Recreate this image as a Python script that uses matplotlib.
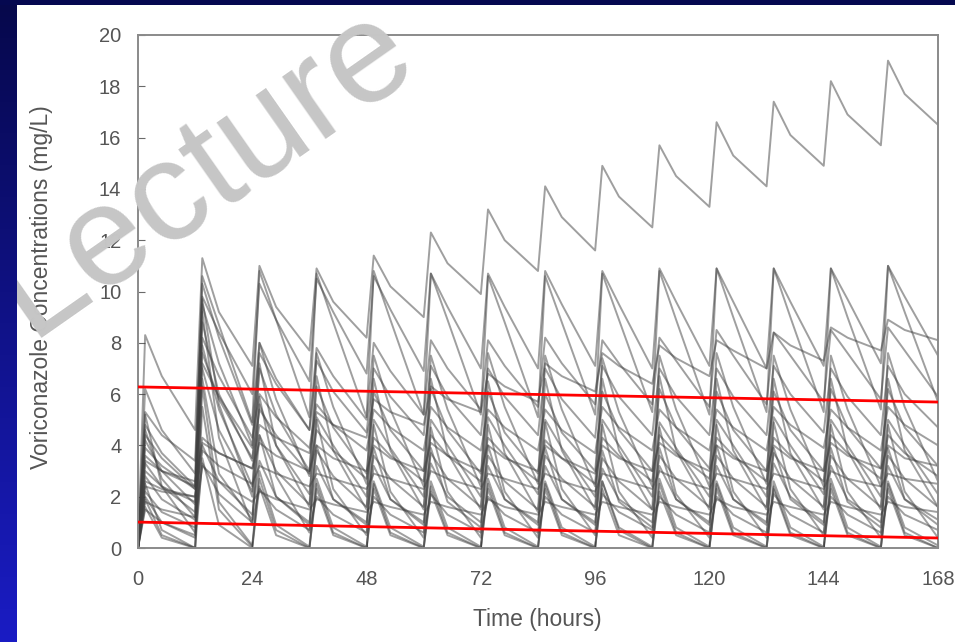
import matplotlib
matplotlib.use("Agg")
import matplotlib.pyplot as plt
import numpy as np
from matplotlib.patches import Rectangle

plt.rcParams['font.family'] = ['Liberation Sans', 'DejaVu Sans']

# dosing every 12 h; each curve: (peak at +1.5 h, value at +5 h, trough at +12 h)
dose_times = [0, 12, 24, 36, 48, 60, 72, 84, 96, 108, 120, 132, 144, 156]
offsets = [1.5, 5, 12]

c01 = [(8.3, 6.7, 4.6), (11.3, 9.2, 7.1), (11.0, 9.4, 7.7), (10.9, 9.6, 8.2), (11.4, 10.2, 9.0),
       (12.3, 11.1, 9.9), (13.2, 12.0, 10.8), (14.1, 12.9, 11.6), (14.9, 13.7, 12.5), (15.7, 14.5, 13.3),
       (16.6, 15.3, 14.1), (17.4, 16.1, 14.9), (18.2, 16.9, 15.7), (19.0, 17.7, 16.5)]
c02 = [(6.2, 4.6, 2.9), (10.6, 8.7, 4.9), (10.8, 8.9, 5.1), (10.7, 8.8, 5.1), (10.8, 8.9, 5.2),
       (10.7, 8.9, 5.2), (10.6, 8.8, 5.1), (10.6, 8.8, 5.2), (10.7, 8.9, 5.3), (10.8, 8.9, 5.2),
       (10.9, 9.0, 5.3), (10.9, 9.0, 5.3), (10.9, 9.0, 5.4), (11.0, 9.2, 5.7)]
c03 = [(5.3, 4.4, 3.4), (9.8, 8.4, 6.0), (10.3, 8.9, 6.5), (10.5, 9.2, 6.8), (10.6, 9.3, 6.9),
       (10.7, 9.4, 7.0), (10.7, 9.4, 7.0), (10.8, 9.5, 7.1), (10.8, 9.5, 7.0), (10.9, 9.6, 7.1),
       (10.9, 9.6, 7.0), (10.9, 9.6, 7.1), (10.9, 9.7, 7.2), (11.0, 9.8, 7.5)]
c04 = [(2.6, 2.3, 2.0), (4.3, 3.7, 3.1), (4.8, 4.3, 3.7), (5.3, 4.8, 4.3), (5.8, 5.3, 4.8),
       (6.3, 5.8, 5.3), (6.8, 6.3, 5.7), (7.2, 6.7, 6.1), (7.6, 7.1, 6.4), (7.9, 7.4, 6.7),
       (8.1, 7.7, 7.0), (8.4, 7.9, 7.3), (8.6, 8.2, 7.7), (8.9, 8.5, 8.1)]
c05 = [(4.8, 3.7, 2.4), (7.2, 5.9, 3.9), (7.6, 6.4, 4.6), (7.8, 6.7, 5.0), (8.0, 6.9, 5.2),
       (8.1, 7.0, 5.4), (8.1, 7.1, 5.5), (8.2, 7.2, 5.6), (8.1, 7.2, 5.6), (8.2, 7.3, 5.5),
       (8.5, 7.5, 5.6), (8.4, 7.5, 5.7), (8.5, 7.6, 5.8), (8.6, 7.7, 5.9)]
c06 = [(4.2, 3.0, 1.7), (8.8, 6.0, 3.4), (7.0, 5.2, 3.0), (6.3, 4.7, 2.9), (6.1, 4.6, 3.0),
       (6.2, 4.6, 2.9), (6.1, 4.5, 2.9), (6.0, 4.5, 3.0), (6.1, 4.6, 3.0), (6.2, 4.7, 3.1),
       (6.1, 4.6, 3.0), (6.1, 4.6, 3.0), (6.2, 4.7, 3.1), (6.2, 4.7, 3.2)]
c07 = [(5.2, 2.4, 0.6), (9.2, 4.3, 0.9), (5.9, 2.8, 0.6), (5.0, 2.3, 0.5), (4.8, 2.2, 0.4),
       (4.7, 2.2, 0.4), (4.8, 2.2, 0.4), (4.9, 2.3, 0.5), (4.8, 2.2, 0.4), (4.7, 2.1, 0.4),
       (4.8, 2.2, 0.4), (4.9, 2.3, 0.5), (4.8, 2.2, 0.4), (4.8, 2.2, 0.4)]
c08 = [(3.0, 2.4, 1.8), (7.6, 5.8, 3.5), (5.4, 4.4, 2.9), (4.6, 3.8, 2.7), (4.3, 3.6, 2.6),
       (4.4, 3.6, 2.6), (4.3, 3.6, 2.6), (4.2, 3.5, 2.5), (4.3, 3.6, 2.6), (4.4, 3.7, 2.7),
       (4.3, 3.6, 2.6), (4.3, 3.6, 2.6), (4.4, 3.7, 2.7), (4.4, 3.7, 2.8)]
c09 = [(2.8, 1.9, 1.1), (7.0, 4.6, 2.2), (4.4, 3.0, 1.7), (3.8, 2.8, 1.6), (3.6, 2.7, 1.6),
       (3.7, 2.7, 1.6), (3.6, 2.6, 1.5), (3.6, 2.7, 1.6), (3.5, 2.6, 1.5), (3.6, 2.7, 1.6),
       (3.6, 2.7, 1.6), (3.7, 2.7, 1.6), (3.6, 2.7, 1.6), (3.6, 2.7, 1.6)]
c10 = [(2.4, 2.2, 2.0), (3.8, 3.2, 2.5), (3.2, 2.9, 2.4), (2.9, 2.7, 2.3), (2.9, 2.7, 2.3),
       (3.0, 2.7, 2.3), (2.9, 2.7, 2.3), (2.9, 2.6, 2.2), (2.9, 2.7, 2.3), (3.0, 2.7, 2.3),
       (2.9, 2.7, 2.3), (2.9, 2.7, 2.3), (3.0, 2.7, 2.4), (2.9, 2.7, 2.5)]
c11 = [(2.5, 0.7, 0.0), (5.5, 1.5, 0.05), (2.7, 0.7, 0.0), (2.5, 0.6, 0.0), (2.5, 0.6, 0.0),
       (2.4, 0.6, 0.0), (2.5, 0.6, 0.0), (2.5, 0.6, 0.0), (2.6, 0.7, 0.0), (2.5, 0.6, 0.0),
       (2.5, 0.6, 0.0), (2.4, 0.6, 0.0), (2.5, 0.6, 0.0), (2.5, 0.6, 0.0)]
c12 = [(1.9, 0.5, 0.0), (6.3, 1.8, 0.1), (3.0, 0.9, 0.05), (2.7, 0.8, 0.05), (2.6, 0.8, 0.05),
       (2.6, 0.8, 0.05), (2.7, 0.8, 0.05), (2.6, 0.8, 0.05), (2.6, 0.8, 0.05), (2.7, 0.8, 0.05),
       (2.6, 0.8, 0.05), (2.6, 0.8, 0.05), (2.7, 0.8, 0.05), (2.6, 0.8, 0.1)]
c13 = [(1.6, 0.4, 0.0), (3.5, 0.9, 0.0), (2.4, 0.5, 0.0), (2.3, 0.5, 0.0), (2.3, 0.5, 0.0),
       (2.2, 0.5, 0.0), (2.3, 0.5, 0.0), (2.3, 0.5, 0.0), (2.3, 0.5, 0.0), (2.2, 0.5, 0.0),
       (2.3, 0.5, 0.0), (2.3, 0.5, 0.0), (2.3, 0.5, 0.0), (2.3, 0.5, 0.0)]
c14 = [(3.6, 3.0, 2.4), (8.2, 6.7, 4.3), (6.0, 5.1, 3.9), (5.6, 4.8, 3.8), (5.4, 4.7, 3.8),
       (5.5, 4.7, 3.8), (5.4, 4.7, 3.8), (5.4, 4.6, 3.7), (5.5, 4.7, 3.8), (5.4, 4.7, 3.8),
       (5.4, 4.7, 3.8), (5.5, 4.8, 3.9), (5.4, 4.7, 3.8), (5.5, 4.8, 4.0)]
c15 = [(2.2, 1.4, 0.8), (4.0, 2.6, 1.3), (3.4, 2.0, 1.0), (3.2, 1.9, 1.0), (3.2, 1.9, 1.0),
       (3.3, 2.0, 1.0), (3.2, 1.9, 1.0), (3.2, 1.9, 1.0), (3.1, 1.9, 1.0), (3.2, 1.9, 1.0),
       (3.2, 1.9, 1.0), (3.3, 2.0, 1.0), (3.2, 1.9, 1.0), (3.2, 1.9, 1.1)]
c16 = [(1.5, 1.0, 0.5), (3.3, 2.1, 1.0), (2.3, 1.5, 0.7), (2.0, 1.3, 0.6), (2.0, 1.3, 0.6),
       (2.1, 1.3, 0.6), (2.0, 1.3, 0.6), (2.0, 1.3, 0.6), (2.1, 1.4, 0.7), (2.0, 1.3, 0.6),
       (2.0, 1.3, 0.6), (2.1, 1.3, 0.6), (2.0, 1.3, 0.6), (2.0, 1.3, 0.7)]
c17 = [(3.9, 3.2, 2.3), (10.3, 8.2, 4.8), (8.0, 6.6, 4.6), (7.3, 6.1, 4.5), (7.0, 5.9, 4.4),
       (7.1, 5.9, 4.4), (7.0, 5.9, 4.4), (7.0, 5.8, 4.3), (7.1, 5.9, 4.4), (7.0, 5.9, 4.4),
       (7.0, 5.9, 4.4), (7.1, 6.0, 4.5), (7.0, 5.9, 4.4), (7.1, 6.0, 4.7)]
c18 = [(4.6, 2.7, 1.2), (9.7, 5.6, 2.0), (7.2, 4.0, 1.6), (6.7, 3.8, 1.5), (6.6, 3.8, 1.5),
       (6.6, 3.7, 1.5), (6.5, 3.7, 1.4), (6.6, 3.8, 1.5), (6.6, 3.8, 1.5), (6.7, 3.8, 1.5),
       (6.6, 3.8, 1.5), (6.6, 3.7, 1.5), (6.6, 3.8, 1.5), (6.6, 3.8, 1.6)]
c19 = [(3.4, 3.0, 2.6), (4.1, 3.7, 3.1), (4.1, 3.6, 3.0), (4.0, 3.5, 3.0), (4.0, 3.5, 3.0),
       (4.1, 3.6, 3.0), (4.0, 3.5, 3.0), (4.0, 3.5, 2.9), (4.0, 3.5, 3.0), (4.1, 3.6, 3.0),
       (4.0, 3.5, 3.0), (4.0, 3.5, 3.0), (4.1, 3.6, 3.1), (4.0, 3.5, 3.2)]
c20 = [(1.8, 1.5, 1.2), (3.2, 2.6, 1.8), (2.2, 1.9, 1.5), (1.9, 1.7, 1.4), (1.8, 1.6, 1.3),
       (1.8, 1.6, 1.3), (1.9, 1.6, 1.3), (1.8, 1.6, 1.3), (1.8, 1.6, 1.3), (1.8, 1.6, 1.3),
       (1.9, 1.6, 1.3), (1.8, 1.6, 1.3), (1.8, 1.6, 1.3), (1.8, 1.6, 1.4)]
c21 = [(3.3, 2.4, 1.4), (7.9, 5.4, 2.4), (5.6, 4.0, 2.1), (5.1, 4.0, 2.0), (5.0, 3.9, 2.0),
       (5.0, 4.0, 2.0), (5.1, 4.0, 2.1), (5.0, 3.9, 2.0), (5.0, 4.0, 2.0), (4.9, 3.9, 2.0),
       (5.0, 4.0, 2.0), (5.1, 4.0, 2.1), (5.0, 4.0, 2.0), (5.0, 4.0, 2.1)]
c22 = [(2.0, 1.0, 0.4), (6.6, 2.9, 1.1), (4.4, 2.0, 0.9), (4.0, 1.9, 0.9), (3.9, 1.9, 0.9),
       (3.9, 1.8, 0.8), (4.0, 1.9, 0.9), (3.9, 1.9, 0.9), (3.8, 1.8, 0.8), (3.9, 1.9, 0.9),
       (4.0, 1.9, 0.9), (3.9, 1.9, 0.9), (3.9, 1.8, 0.8), (3.9, 1.9, 0.9)]
c23 = [(4.4, 3.5, 2.3), (9.5, 7.2, 4.0), (8.0, 5.8, 2.8), (7.6, 5.5, 2.5), (7.5, 5.4, 2.4),
       (7.5, 5.4, 2.4), (7.6, 5.5, 2.5), (7.5, 5.4, 2.4), (7.4, 5.3, 2.4), (7.5, 5.4, 2.4),
       (7.6, 5.5, 2.5), (7.5, 5.4, 2.4), (7.5, 5.4, 2.4), (7.6, 5.5, 2.6)]

curves = [c01, c02, c03, c04, c05, c06, c07, c08, c09, c10, c11, c12,
          c13, c14, c15, c16, c17, c18, c19, c20, c21, c22, c23]

# red reference lines (value at t=0 and t=168)
red_t = [0, 168]
red_upper = [6.28, 5.69]
red_lower = [1.01, 0.39]

x_ticks = [0, 24, 48, 72, 96, 120, 144, 168]
y_ticks = [0, 2, 4, 6, 8, 10, 12, 14, 16, 18, 20]

fig = plt.figure(figsize=(9.55, 6.42), dpi=100)
fig.patch.set_facecolor('white')

ax = fig.add_axes([138 / 955, 94 / 642, 800 / 955, 513 / 642])

for c in curves:
    t = [0.0]
    v = [0.0]
    for t0, vals in zip(dose_times, c):
        for off, val in zip(offsets, vals):
            t.append(t0 + off)
            v.append(val)
    ax.plot(t, v, color='#404040', alpha=0.5, lw=1.4)

ax.plot(red_t, red_upper, color='#ff0000', lw=2.0, zorder=5)
ax.plot(red_t, red_lower, color='#ff0000', lw=2.0, zorder=5)

ax.set_xlim(0, 168)
ax.set_ylim(0, 20)
ax.set_xticks(x_ticks)
ax.set_yticks(y_ticks)
for s in ax.spines.values():
    s.set_color('#8a8a8a')
    s.set_linewidth(1.4)
ax.tick_params(axis='both', direction='in', length=5, color='#6a6a6a',
               labelcolor='#555555', labelsize=14.5)
ax.tick_params(axis='y', pad=12)
ax.tick_params(axis='x', pad=16)
ax.set_xlabel('Time (hours)', fontsize=16.5, color='#555555')
ax.set_ylabel('Voriconazole Concentrations (mg/L)', fontsize=16.5, color='#555555')
ax.xaxis.set_label_coords(0.499, -0.117)
ax.yaxis.set_label_coords(-0.106, 0.509)

# watermark
fig.text(30 / 955, 1 - 338 / 642, 'Lecture', rotation=35, rotation_mode='anchor',
         ha='left', va='baseline', fontsize=103, color='#c6c6c6', zorder=10)

# slide frame: navy top band and gradient left band
fig.add_artist(Rectangle((0, 1 - 5 / 642), 1, 5 / 642, transform=fig.transFigure,
                         facecolor='#050850', edgecolor='none', zorder=20))
band = fig.add_axes([0, 0, 16 / 955, 1 - 5 / 642], zorder=20)
grad = np.linspace(0, 1, 256).reshape(-1, 1)
cmap = matplotlib.colors.LinearSegmentedColormap.from_list('slide', ['#06084c', '#1a1cc4'])
band.imshow(grad, aspect='auto', cmap=cmap, extent=[0, 1, 0, 1], origin='upper')
band.set_axis_off()

fig.savefig('out.png', dpi=100, facecolor='white')
